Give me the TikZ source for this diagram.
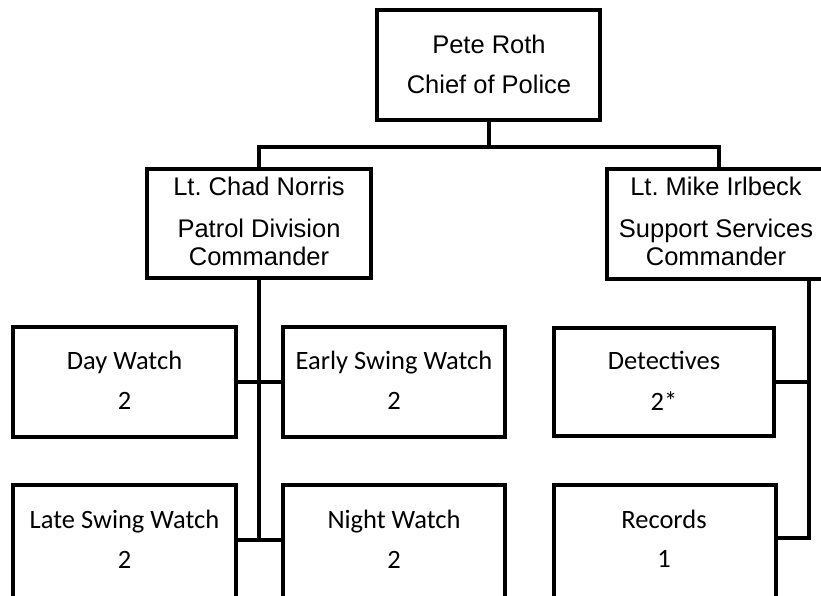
\documentclass[tikz,border=0pt]{standalone}
\usepackage{fontspec}
\setmainfont{Liberation Sans}
\newfontfamily\calibfont{Carlito}
\frenchspacing
\begin{document}
\begin{tikzpicture}[x=1pt,y=-1pt,
  box/.style={draw=black, fill=white, rectangle, inner sep=0pt, line width=4pt},
  wire/.style={draw=black, line width=4pt},
  toptext/.style={anchor=base, inner sep=0pt, font=\fontsize{25.5}{30}\selectfont},
  lowtext/.style={anchor=base, inner sep=0pt, font=\calibfont\fontsize{26.5}{31}\selectfont}]
\useasboundingbox (0,0) rectangle (821,595);
\fill[white] (0,0) rectangle (821,595);
\clip (0,0) rectangle (821,595);

% boxes
\node[box, minimum width=223pt, minimum height=110pt] (chief) at (488.5,65) {};
\node[box, minimum width=224pt, minimum height=109pt] (patrol) at (259,223.5) {};
\node[box, minimum width=224pt, minimum height=110pt] (support) at (719,224) {};
\node[box, minimum width=223pt, minimum height=110pt] (day) at (124.5,382) {};
\node[box, minimum width=222pt, minimum height=110pt] (early) at (394,382) {};
\node[box, minimum width=220pt, minimum height=108pt] (det) at (664,382) {};
\node[box, minimum width=223pt, minimum height=120pt] (late) at (124.5,545) {};
\node[box, minimum width=222pt, minimum height=120pt] (night) at (394,545) {};
\node[box, minimum width=222pt, minimum height=120pt] (rec) at (665,545) {};

% helper coordinates
\coordinate (sx) at (809,0);
\coordinate (r2) at (0,540);
\coordinate (r2s) at (0,538);

% connectors
\draw[wire] (chief.south) -- ++(0,25) coordinate (j0);
\draw[wire] (patrol.north) |- (j0) -| (support.north);
\draw[wire] (patrol.south) -- (patrol.south |- r2);
\draw[wire] (day.east) -- (early.west);
\draw[wire] (late.east |- r2) -- (night.west |- r2);
\draw[wire] (support.south -| sx) |- (rec.east |- r2s);
\draw[wire] (det.east) -- (det.east -| sx);

% texts
\node[toptext] (chiefA) at (489,53) {Pete Roth};
\node[toptext] (chiefB) at (489,93) {Chief of Police};
\node[toptext] (patrolA) at (259,195) {Lt. Chad Norris};
\node[toptext] (patrolB) at (259,237) {Patrol Division};
\node[toptext] (patrolC) at (259,265) {Commander};
\node[toptext] (supportA) at (716,195) {Lt. Mike Irlbeck};
\node[toptext] (supportB) at (716,237) {Support Services};
\node[toptext] (supportC) at (716,265) {Commander};

\node[lowtext] (dayA) at (124.5,369) {Day Watch};
\node[lowtext] (dayB) at (124.5,409) {2};
\node[lowtext] (earlyA) at (394,369) {Early Swing Watch};
\node[lowtext] (earlyB) at (394,409) {2};
\node[lowtext] (detA) at (664,369) {Detectives};
\node[lowtext] (detB) at (664,410) {2*};
\node[lowtext] (lateA) at (124.5,528) {Late Swing Watch};
\node[lowtext] (lateB) at (124.5,568) {2};
\node[lowtext] (nightA) at (394,528) {Night Watch};
\node[lowtext] (nightB) at (394,568) {2};
\node[lowtext] (recA) at (664,528) {Records};
\node[lowtext] (recB) at (664,567) {1};
\end{tikzpicture}
\end{document}
